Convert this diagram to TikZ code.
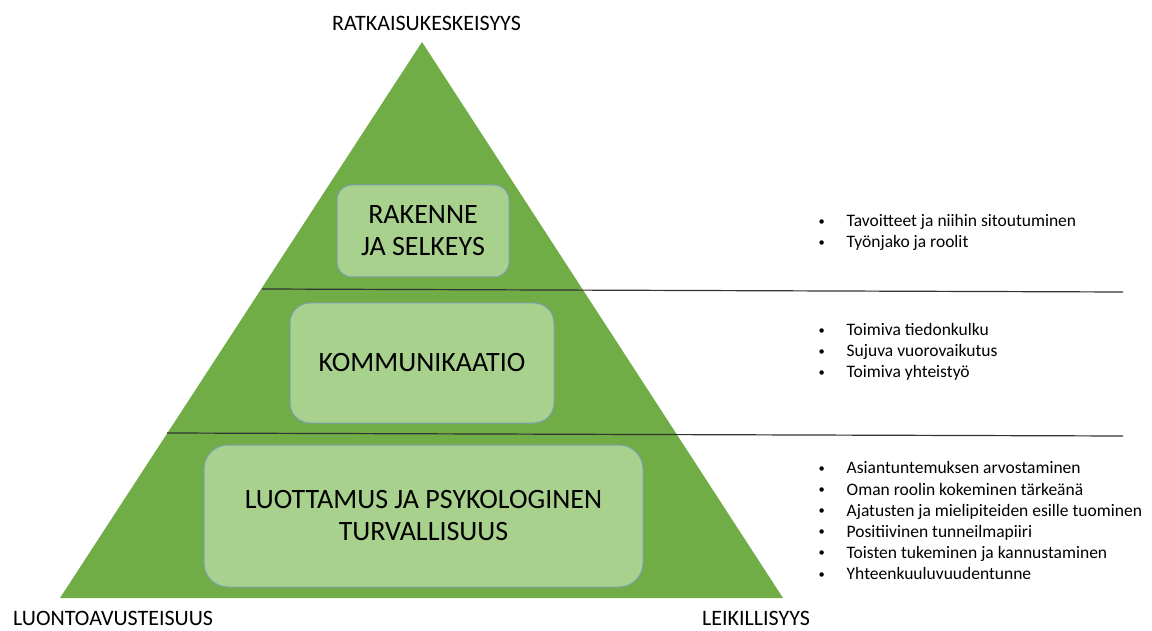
\documentclass[tikz,border=0pt]{standalone}
\usepackage{fontspec}
\setmainfont{Carlito}
\definecolor{tri}{RGB}{112,173,71}
\definecolor{boxfill}{RGB}{169,209,142}
\definecolor{boxline}{RGB}{125,160,175}
\newcommand{\bulletrows}[1]{\begin{tabular}{@{}p{29pt}@{}l@{}}#1\end{tabular}}
\newcommand{\smallbul}{\hspace*{1pt}\raisebox{1.4pt}{\fontsize{12.5}{12.5}\selectfont•}}
\begin{document}
\begin{tikzpicture}[x=1pt,y=-1pt,
  layerbox/.style={draw=boxline, line width=1pt, fill=boxfill, align=center, inner sep=0pt, font=\fontsize{28}{32}\selectfont},
  divider/.style={draw=black!80, line width=1.2pt},
  corner/.style={font=\fontsize{22}{26}\selectfont, inner sep=0pt, anchor=base west},
  bullets/.style={font=\fontsize{17.5}{21.1}\selectfont, inner sep=0pt, anchor=north west, align=left}
]
\useasboundingbox (0,0) rectangle (1152,631);
\coordinate (apex) at (422,42);
\coordinate (bl) at (60,598);
\coordinate (br) at (783,598);
\fill[tri] (apex) -- (br) -- (bl) -- cycle;

\node[layerbox, minimum width=172, minimum height=92, rounded corners=15] (rak) at (423,231) {RAKENNE\\JA SELKEYS};
\node[layerbox, minimum width=264, minimum height=120, rounded corners=20] (kom) at (422,363) {KOMMUNIKAATIO};
\node[layerbox, minimum width=439, minimum height=142, rounded corners=24] (luo) at (423.5,516) {LUOTTAMUS JA PSYKOLOGINEN\\TURVALLISUUS};

\coordinate (d1a) at (262,289);
\coordinate (d1b) at (1123,292);
\coordinate (d2a) at (167,433);
\coordinate (d2b) at (1123,436);
\draw[divider] (d1a) -- (d1b);
\draw[divider] (d2a) -- (d2b);

\node[corner] (top) at (332,31) {RATKAISUKESKEISYYS};
\node[corner] (left) at (13,625) {LUONTOAVUSTEISUUS};
\node[corner] (right) at (702,625) {LEIKILLISYYS};

\node[bullets] (b1) at (817.5,211.5) {\bulletrows{\smallbul&Tavoitteet ja niihin sitoutuminen\\ \smallbul&Työnjako ja roolit}};
\node[bullets] (b2) at (817.5,320.5) {\bulletrows{\smallbul&Toimiva tiedonkulku\\ \smallbul&Sujuva vuorovaikutus\\ \smallbul&Toimiva yhteistyö}};
\node[bullets] (b3) at (817.5,459) {\bulletrows{\smallbul&Asiantuntemuksen arvostaminen\\ \smallbul&Oman roolin kokeminen tärkeänä\\ \smallbul&Ajatusten ja mielipiteiden esille tuominen\\ \smallbul&Positiivinen tunneilmapiiri\\ \smallbul&Toisten tukeminen ja kannustaminen\\ \smallbul&Yhteenkuuluvuudentunne}};
\end{tikzpicture}
\end{document}
